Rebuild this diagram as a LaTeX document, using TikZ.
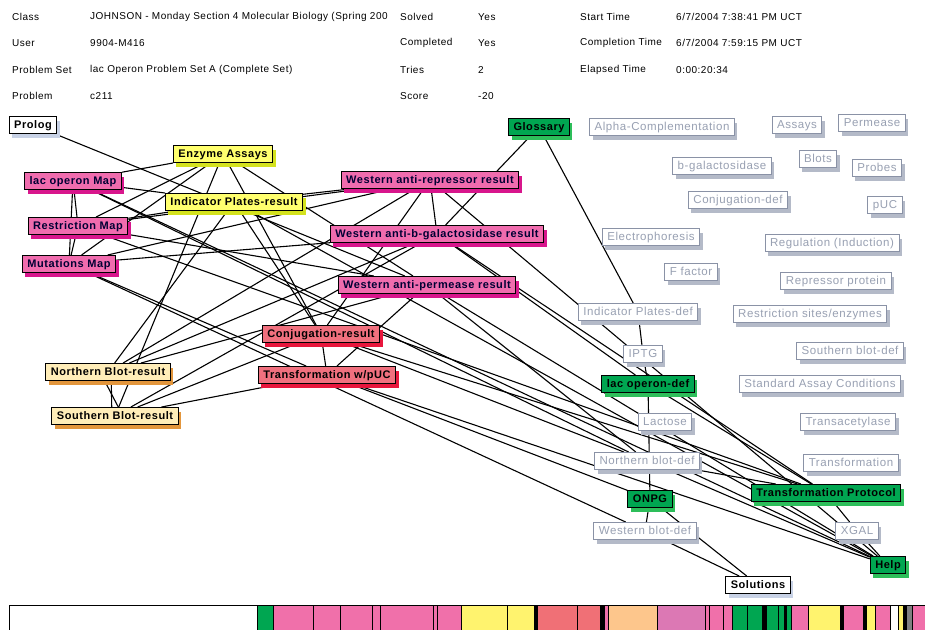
\documentclass[tikz,border=0pt]{standalone}
\usepackage{fontspec}
\setmainfont{Liberation Sans}[LetterSpace=5]
\usetikzlibrary{shadows, backgrounds}

\definecolor{pinkfill}{HTML}{F06CAE}
\definecolor{pinkshade}{HTML}{D8168C}
\definecolor{yellowfill}{HTML}{FFFF6E}
\definecolor{yellowshade}{HTML}{D4E21E}
\definecolor{greenfill}{HTML}{00A651}
\definecolor{greenshade}{HTML}{2DBE5A}
\definecolor{redfill}{HTML}{F0707E}
\definecolor{redshade}{HTML}{E8163C}
\definecolor{peachfill}{HTML}{FFEDB8}
\definecolor{peachshade}{HTML}{E3963C}
\definecolor{greyline}{HTML}{8A92A6}
\definecolor{greytext}{HTML}{98A0B2}
\definecolor{greyshade}{HTML}{B4BAC8}
\definecolor{whiteshade}{HTML}{C8D2E6}
\definecolor{barpink}{HTML}{F070AA}
\definecolor{baryellow}{HTML}{FFF36E}
\definecolor{barred}{HTML}{F07076}
\definecolor{barpeach}{HTML}{FDC68C}
\definecolor{barmauve}{HTML}{DC78B4}

\tikzset{
  box/.style={draw=black, line width=1pt, inner xsep=5pt, inner ysep=3.5pt,
    text height=8pt, text depth=2pt, font=\fontsize{11}{12}\selectfont\bfseries},
  pinkbox/.style={box, fill=pinkfill, text=black!80!blue,
    drop shadow={shadow xshift=3pt, shadow yshift=-4pt, fill=pinkshade, opacity=1}},
  yellowbox/.style={box, fill=yellowfill,
    drop shadow={shadow xshift=3pt, shadow yshift=-4pt, fill=yellowshade, opacity=1}},
  greenbox/.style={box, fill=greenfill,
    drop shadow={shadow xshift=3pt, shadow yshift=-4pt, fill=greenshade, opacity=1}},
  redbox/.style={box, fill=redfill,
    drop shadow={shadow xshift=3pt, shadow yshift=-4pt, fill=redshade, opacity=1}},
  peachbox/.style={box, fill=peachfill,
    drop shadow={shadow xshift=3pt, shadow yshift=-4pt, fill=peachshade, opacity=1}},
  whitebox/.style={box, fill=white,
    drop shadow={shadow xshift=3pt, shadow yshift=-4pt, fill=whiteshade, opacity=1}},
  defbox/.style={draw=greyline, line width=1pt, fill=white, text=greytext,
    inner xsep=5pt, inner ysep=3.5pt, text height=8pt, text depth=2pt,
    font=\fontsize{11.5}{12}\selectfont,
    drop shadow={shadow xshift=3pt, shadow yshift=-4pt, fill=greyshade, opacity=1}},
  link/.style={line width=1.1pt, black},
  info/.style={anchor=west, inner sep=0pt, font=\fontsize{10}{11}\selectfont}
}

\begin{document}
\begin{tikzpicture}[x=1pt, y=-1pt]
    \useasboundingbox (0,0) rectangle (925,629);

    % Header
    \node[info] (hclass) at (12,17) {Class};
    \node[info] (vclass) at (90,17) {JOHNSON - Monday Section 4 Molecular Biology (Spring 200};
    \node[info] (hsolved) at (400,17) {Solved};
    \node[info] (vsolved) at (478,17) {Yes};
    \node[info] (hstart) at (580,17) {Start Time};
    \node[info] (vstart) at (676,17) {6/7/2004 7:38:41 PM UCT};
    \node[info] (huser) at (12,43) {User};
    \node[info] (vuser) at (90,43) {9904-M416};
    \node[info] (hcompl) at (400,43) {Completed};
    \node[info] (vcompl) at (478,43) {Yes};
    \node[info] (hend) at (580,43) {Completion Time};
    \node[info] (vend) at (676,43) {6/7/2004 7:59:15 PM UCT};
    \node[info] (hset) at (12,70) {Problem Set};
    \node[info] (vset) at (90,70) {lac Operon Problem Set A (Complete Set)};
    \node[info] (htries) at (400,70) {Tries};
    \node[info] (vtries) at (478,70) {2};
    \node[info] (helapsed) at (580,70) {Elapsed Time};
    \node[info] (velapsed) at (676,70) {0:00:20:34};
    \node[info] (hprob) at (12,96) {Problem};
    \node[info] (vprob) at (90,96) {c211};
    \node[info] (hscore) at (400,96) {Score};
    \node[info] (vscore) at (478,96) {-20};

    % Visited nodes
    \node[whitebox] (prolog) at (33,125) {Prolog};
    \node[greenbox] (glossary) at (539,127) {Glossary};
    \node[yellowbox] (enzyme) at (223,154) {Enzyme Assays};
    \node[pinkbox] (lacmap) at (73,181) {lac operon Map};
    \node[yellowbox] (indres) at (234,202) {Indicator Plates-result};
    \node[pinkbox] (restmap) at (78,226) {Restriction Map};
    \node[pinkbox] (mutmap) at (69,264) {Mutations Map};
    \node[pinkbox] (wrep) at (430,180) {Western anti-repressor result};
    \node[pinkbox] (wbgal) at (437,234) {Western anti-b-galactosidase result};
    \node[pinkbox] (wperm) at (427,285) {Western anti-permease result};
    \node[redbox] (conjres) at (321,334) {Conjugation-result};
    \node[redbox] (transres) at (327,375) {Transformation w/pUC};
    \node[peachbox] (northres) at (108,372) {Northern Blot-result};
    \node[peachbox] (southres) at (115,416) {Southern Blot-result};
    \node[greenbox] (lacdef) at (648,384) {lac operon-def};
    \node[greenbox] (transprot) at (826,493) {Transformation Protocol};
    \node[greenbox] (onpg) at (650,499) {ONPG};
    \node[greenbox] (help) at (888,565) {Help};
    \node[whitebox] (solutions) at (758,585) {Solutions};

    % Glossary entries
    \node[defbox] (alpha) at (662,127) {Alpha-Complementation};
    \node[defbox] (assays) at (797,125) {Assays};
    \node[defbox] (permease) at (872,123) {Permease};
    \node[defbox] (bgal) at (722,166) {b-galactosidase};
    \node[defbox] (blots) at (818,159) {Blots};
    \node[defbox] (probes) at (877,168) {Probes};
    \node[defbox] (conjdef) at (738,200) {Conjugation-def};
    \node[defbox] (puc) at (885,205) {pUC};
    \node[defbox] (electro) at (651,237) {Electrophoresis};
    \node[defbox] (regul) at (832,243) {Regulation (Induction)};
    \node[defbox] (ffactor) at (691,272) {F factor};
    \node[defbox] (repress) at (836,281) {Repressor protein};
    \node[defbox] (inddef) at (638,312) {Indicator Plates-def};
    \node[defbox] (restsites) at (810,314) {Restriction sites/enzymes};
    \node[defbox] (iptg) at (643,354) {IPTG};
    \node[defbox] (southdef) at (850,351) {Southern blot-def};
    \node[defbox] (sac) at (820,384) {Standard Assay Conditions};
    \node[defbox] (lactose) at (665,422) {Lactose};
    \node[defbox] (transacet) at (848,422) {Transacetylase};
    \node[defbox] (northdef) at (647,461) {Northern blot-def};
    \node[defbox] (transf) at (851,463) {Transformation};
    \node[defbox] (westdef) at (645,531) {Western blot-def};
    \node[defbox] (xgal) at (857,531) {XGAL};

    % Path of the student
    \begin{scope}[on background layer]
      \foreach \a/\b in {prolog/wperm, enzyme/lacmap, enzyme/restmap, enzyme/mutmap,
                         enzyme/conjres, enzyme/wperm, enzyme/southres,
                         lacmap/restmap, lacmap/mutmap, restmap/mutmap, lacmap/indres,
                         restmap/indres, indres/northres, lacmap/northdef, lacmap/help,
                         restmap/transprot, restmap/wperm, mutmap/wrep, mutmap/westdef,
                         mutmap/transres, indres/wrep, indres/help, indres/conjres,
                         wrep/restmap, wrep/northres, wrep/wbgal, wrep/conjres, wrep/help,
                         wbgal/mutmap, wbgal/northres, wbgal/southres, wbgal/lacdef,
                         wbgal/transprot, wperm/northres, wperm/transres, wperm/northdef,
                         wperm/help, conjres/transres, conjres/southres, conjres/northdef,
                         conjres/transprot, transres/southres, transres/onpg, transres/help,
                         glossary/wbgal, glossary/inddef, inddef/iptg, iptg/lacdef,
                         lacdef/onpg, lacdef/transprot, northdef/transprot, northdef/help,
                         onpg/westdef, onpg/solutions, westdef/solutions,
                         transprot/xgal, xgal/help} {
        \draw[link] (\a) -- (\b);
      }
      \draw[link] (northres.250) -- (southres.70);
      \draw[link] (northres.290) -- (southres.110);
    \end{scope}

    % Time bar
    \foreach \p/\q/\c in {9/257/white, 257/273/greenfill, 273/313/barpink, 313/340/barpink,
                          340/372/barpink, 372/380/barpink, 380/433/barpink, 433/437/barpink,
                          437/461/barpink, 461/507/baryellow, 507/534/baryellow, 534/537/black,
                          537/577/barred, 577/600/barred, 600/604/black, 604/608/barpink,
                          608/657/barpeach, 657/705/barmauve, 705/709/barpink, 709/723/barpink,
                          723/732/barpink, 732/747/greenfill, 747/762/greenfill, 762/766/black,
                          766/778/greenfill, 778/784/greenfill, 784/786/black, 786/791/greenfill,
                          791/808/barpink, 808/840/baryellow, 840/843/black, 843/863/barpink,
                          863/866/black, 866/875/baryellow, 875/890/barpink, 890/898/white,
                          898/903/baryellow, 903/906/black, 906/912/gray, 912/925/barpink} {
      \filldraw[fill=\c, draw=black, line width=0.8pt] (\p,605) rectangle (\q,635);
    }
  \end{tikzpicture}
\end{document}
